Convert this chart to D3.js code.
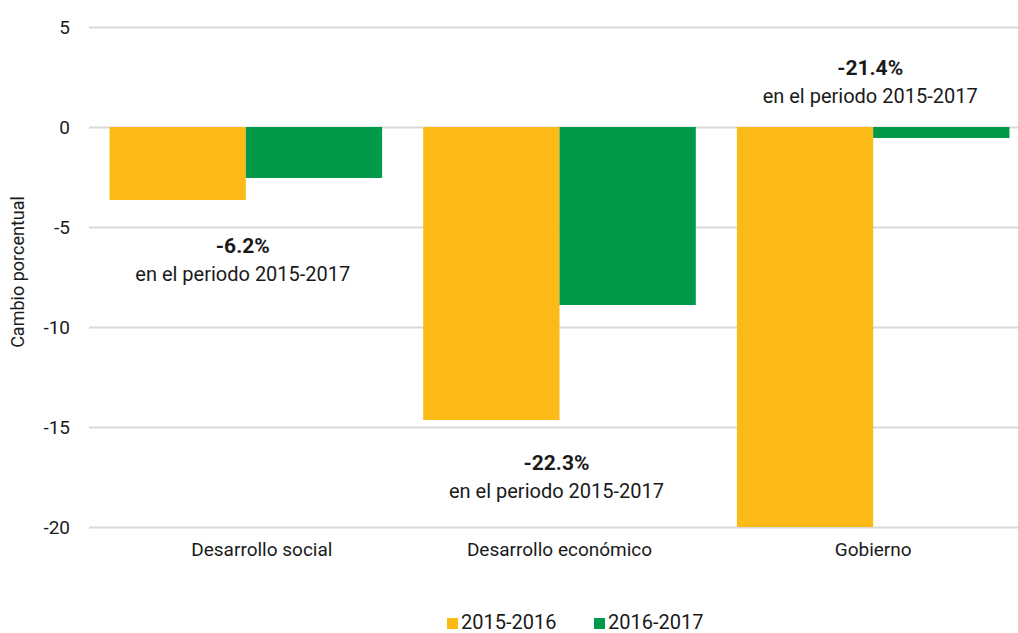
<!DOCTYPE html>
<html>
<head>
<meta charset="utf-8">
<script src="https://cdn.jsdelivr.net/npm/d3@7"></script>
<style>
  body { margin: 0; background: #fff; }
  text { font-family: Roboto, "Liberation Sans", sans-serif; fill: #1a1a1a; }
  .grid line { stroke: #d9d9d9; stroke-width: 2; }
  .tick text { font-size: 19px; }
</style>
</head>
<body>
<div id="chart"></div>
<script>
// chart values
var categories = ["Desarrollo social", "Desarrollo económico", "Gobierno"];
var seriesNames = ["2015-2016", "2016-2017"];
var values2015_2016 = [-3.65, -14.65, -20.0];
var values2016_2017 = [-2.55, -8.9, -0.55];
var yTicks = [5, 0, -5, -10, -15, -20];
var noteValues = ["-6.2%", "-22.3%", "-21.4%"];
var noteText = "en el periodo 2015-2017";
var noteY = [-6.3, -17.15, 2.6];

var colors = ["#fbba16", "#009a4a"];

var width = 1018, height = 633;
var svg = d3.select("#chart").append("svg")
  .attr("width", width)
  .attr("height", height);

var x0 = d3.scaleBand()
  .domain(categories)
  .range([89, 1030])
  .paddingInner(0.131)
  .paddingOuter(0.0655);

var x1 = d3.scaleBand()
  .domain(seriesNames)
  .range([0, x0.bandwidth()]);

var y = d3.scaleLinear()
  .domain([-20, 5])
  .range([527, 27]);

// gridlines + y labels
var yAxis = svg.append("g")
  .attr("class", "grid")
  .attr("transform", "translate(89,0)")
  .call(d3.axisLeft(y)
    .tickValues(yTicks)
    .tickSizeInner(-(width - 89))
    .tickSizeOuter(0)
    .tickPadding(19)
    .tickFormat(function(d) { return String(d); }));
yAxis.select(".domain").remove();
yAxis.selectAll(".tick text").attr("dy", "0.32em");

// bars
var rows = categories.map(function(c, i) {
  return { cat: c, vals: [values2015_2016[i], values2016_2017[i]] };
});

rows.forEach(function(r) {
  svg.append("g")
    .selectAll("rect")
    .data(r.vals)
    .enter()
    .append("rect")
    .attr("x", function(d, i) { return x0(r.cat) + x1(seriesNames[i]); })
    .attr("width", x1.bandwidth())
    .attr("y", function(d) { return y(Math.max(0, d)); })
    .attr("height", function(d) { return Math.abs(y(d) - y(0)); })
    .style("fill", function(d, i) { return colors[i]; });
});

// category labels
var xAxis = svg.append("g")
  .attr("transform", "translate(0,527)")
  .call(d3.axisBottom(x0).tickSize(0).tickPadding(16))
  .call(function(g) { g.select(".domain").remove(); });
// first label sits a bit right of its band centre in the original
xAxis.selectAll(".tick text")
  .attr("dx", function(d, i) { return i === 0 ? 16 : 0; });

// annotations
categories.forEach(function(c, i) {
  var cx = x0(c) + x0.bandwidth() / 2 - 3;
  svg.append("text")
    .attr("x", cx)
    .attr("y", y(noteY[i]))
    .attr("text-anchor", "middle")
    .style("font-size", "21px")
    .style("font-weight", "bold")
    .text(noteValues[i]);
  svg.append("text")
    .attr("x", cx)
    .attr("y", y(noteY[i]) + 28)
    .attr("text-anchor", "middle")
    .style("font-size", "20px")
    .text(noteText);
});

// y axis title
svg.append("text")
  .attr("transform", "translate(24,272)rotate(-90)")
  .attr("text-anchor", "middle")
  .style("font-size", "18px")
  .text("Cambio porcentual");

// legend
var legend = svg.append("g").attr("transform", "translate(447,0)");
var legendX = [0, 147];
seriesNames.forEach(function(s, i) {
  legend.append("rect")
    .attr("x", legendX[i])
    .attr("y", 618)
    .attr("width", 11)
    .attr("height", 11)
    .style("fill", colors[i]);
  legend.append("text")
    .attr("x", legendX[i] + 14)
    .attr("y", 629)
    .style("font-size", "20px")
    .text(s);
});
</script>
</body>
</html>
